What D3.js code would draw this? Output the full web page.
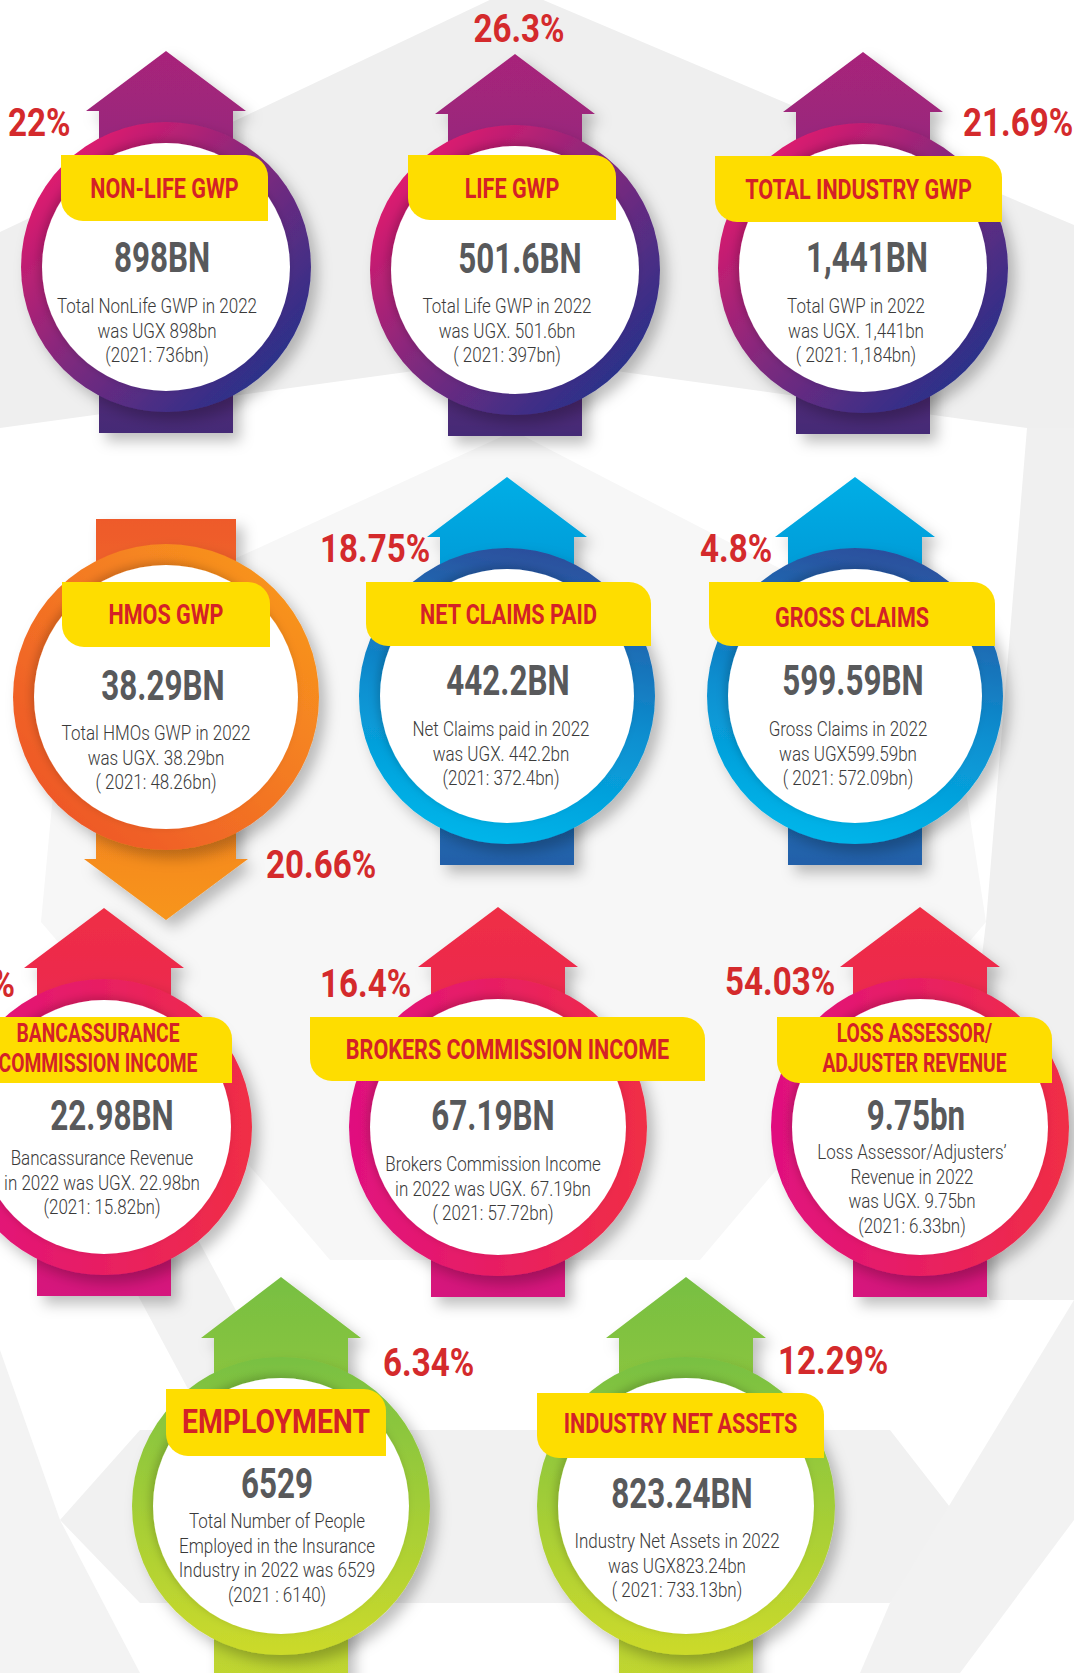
<!DOCTYPE html>
<html><head><meta charset="utf-8">
<script src="https://cdn.jsdelivr.net/npm/d3@7"></script>
<style>
html,body{margin:0;padding:0;background:#fff;}
svg{display:block;}
</style></head>
<body>
<svg id="chart" width="1074" height="1673"></svg>
<script>
// ---------- DATA ----------
const titles = ["NON-LIFE GWP", "LIFE GWP", "TOTAL INDUSTRY GWP", "HMOS GWP", "NET CLAIMS PAID", "GROSS CLAIMS",
  "BANCASSURANCE|COMMISSION INCOME", "BROKERS COMMISSION INCOME", "LOSS ASSESSOR/|ADJUSTER REVENUE", "EMPLOYMENT", "INDUSTRY NET ASSETS"];
const values2022 = ["898BN", "501.6BN", "1,441BN", "38.29BN", "442.2BN", "599.59BN", "22.98BN", "67.19BN", "9.75bn", "6529", "823.24BN"];
const descriptions = [
  ["Total NonLife GWP in 2022", "was UGX 898bn", "(2021: 736bn)"],
  ["Total Life GWP in 2022", "was UGX. 501.6bn", "( 2021: 397bn)"],
  ["Total GWP in 2022", "was UGX. 1,441bn", "( 2021: 1,184bn)"],
  ["Total HMOs GWP in 2022", "was UGX. 38.29bn", "( 2021: 48.26bn)"],
  ["Net Claims paid in 2022", "was UGX. 442.2bn", "(2021: 372.4bn)"],
  ["Gross Claims in 2022", "was UGX599.59bn", "( 2021: 572.09bn)"],
  ["Bancassurance Revenue", "in 2022 was UGX. 22.98bn", "(2021: 15.82bn)"],
  ["Brokers Commission Income", "in 2022 was UGX. 67.19bn", "( 2021: 57.72bn)"],
  ["Loss Assessor/Adjusters\u2019", "Revenue in 2022", "was UGX. 9.75bn", "(2021: 6.33bn)"],
  ["Total Number of People", "Employed in the Insurance", "Industry in 2022 was 6529", "(2021 : 6140)"],
  ["Industry Net Assets in 2022", "was UGX823.24bn", "( 2021: 733.13bn)"]
];
const changes = ["22%", "26.3%", "21.69%", "20.66%", "18.75%", "4.8%", "45.26%", "16.4%", "54.03%", "6.34%", "12.29%"];
const directions = ["up", "up", "up", "down", "up", "up", "up", "up", "up", "up", "up"];
const themes = ["purple", "purple", "purple", "orange", "blue", "blue", "pink", "pink", "pink", "green", "green"];

// ---------- LAYOUT (positions only) ----------
const layout = [
  {cx:166, cy:267, r:145, lab:[61,155,268,221], labY:[198], vx:162, vy:272, dx:157, dy:313, px:8, py:136, pa:"start"},
  {cx:515, cy:270, r:145, lab:[408,155,616,220], labY:[198], vx:520, vy:273, dx:507, dy:313, px:519, py:42, pa:"middle"},
  {cx:863, cy:268, r:145, lab:[715,156,1002,222], labY:[199], vx:867, vy:272, dx:856, dy:313, px:963, py:136, pa:"start"},
  {cx:166, cy:697, r:153, lab:[62,582,270,647], labY:[624], vx:163, vy:700, dx:156, dy:740, px:266, py:878, pa:"start"},
  {cx:507, cy:696, r:148, lab:[366,582,651,646], labY:[624], vx:508, vy:695, dx:501, dy:736, px:320, py:562, pa:"start"},
  {cx:855, cy:696, r:148, lab:[709,582,995,646], labY:[627], vx:853, vy:695, dx:848, dy:736, px:700, py:562, pa:"start"},
  {cx:104, cy:1127, r:148, lab:[-30,1017,232,1083], labY:[1042,1072], vx:112, vy:1130, dx:102, dy:1165, px:15, py:997, pa:"end"},
  {cx:498, cy:1127, r:149, lab:[310,1017,705,1081], labY:[1059], vx:493, vy:1130, dx:493, dy:1171, px:320, py:997, pa:"start"},
  {cx:920, cy:1127, r:149, lab:[777,1017,1052,1083], labY:[1042,1072], vx:916, vy:1130, dx:912, dy:1159, px:725, py:995, pa:"start"},
  {cx:281, cy:1506, r:149, lab:[166,1389,386,1456], labY:[1433], vx:277, vy:1498, dx:277, dy:1528, px:383, py:1376, pa:"start", big:true, tall:true},
  {cx:686, cy:1506, r:149, lab:[537,1393,824,1458], labY:[1433], vx:682, vy:1508, dx:677, dy:1548, px:778, py:1374, pa:"start", tall:true}
];

const palette = {
  purple: {ring:[["0%","#dc1a6e"],["50%","#7c2a7e"],["100%","#2c3089"]], ringDir:[0.15,0.15,0.85,0.85],
           arrow:[["0%","#a8247a"],["45%","#8a287c"],["100%","#442a76"]]},
  blue:   {ring:[["0%","#2d4e9c"],["55%","#0a8fd0"],["100%","#00b6ea"]], ringDir:[0.6,0,0.4,1],
           arrow:[["0%","#00aee6"],["45%","#0a8bcb"],["100%","#2360a9"]]},
  orange: {ring:[["0%","#ee5529"],["100%","#f8961d"]], ringDir:[0.1,0.9,0.9,0.1],
           arrow:[["0%","#ee5a2b"],["100%","#f7951d"]]},
  pink:   {ring:[["0%","#e0107f"],["100%","#f02e45"]], ringDir:[0,0.5,1,0.5],
           arrow:[["0%","#ef2e45"],["50%","#e8245a"],["100%","#d5127e"]]},
  green:  {ring:[["0%","#78c043"],["100%","#ccda2b"]], ringDir:[0,0,0,1],
           arrow:[["0%","#77bf43"],["100%","#c8d82d"]]}
};

const svg = d3.select("#chart");
const defs = svg.append("defs");

const f = defs.append("filter").attr("id","shadow").attr("x","-30%").attr("y","-30%").attr("width","160%").attr("height","160%");
f.append("feDropShadow").attr("dx",7).attr("dy",8).attr("stdDeviation",7).attr("flood-color","#000").attr("flood-opacity",0.25);
const f2 = defs.append("filter").attr("id","inshadow").attr("x","-20%").attr("y","-20%").attr("width","140%").attr("height","140%");
f2.append("feDropShadow").attr("dx",-3).attr("dy",-3).attr("stdDeviation",4).attr("flood-color","#000").attr("flood-opacity",0.18);

Object.entries(palette).forEach(([k,p]) => {
  const g = defs.append("linearGradient").attr("id","ring-"+k)
    .attr("x1",p.ringDir[0]).attr("y1",p.ringDir[1]).attr("x2",p.ringDir[2]).attr("y2",p.ringDir[3]);
  p.ring.forEach(s => g.append("stop").attr("offset",s[0]).attr("stop-color",s[1]));
  const a = defs.append("linearGradient").attr("id","arrow-"+k).attr("x1",0).attr("y1",0).attr("x2",0).attr("y2",1);
  p.arrow.forEach(s => a.append("stop").attr("offset",s[0]).attr("stop-color",s[1]));
});

// ---------- BACKGROUND ----------
const bgShapes = [
  {c:"#efefef", p:[[0,232],[515,-12],[1074,225],[1074,428],[1027,428],[515,357],[0,428]]},
  {c:"#f7f7f7", p:[[514,431],[945,654],[986,922],[700,1260],[330,1260],[41,922],[68,635]]},
  {c:"#f0f0f0", p:[[1027,428],[1074,428],[1074,1300],[990,1300],[952,1209],[986,922]]},
  {c:"#f2f2f2", p:[[60,1150],[150,1150],[300,1430],[210,1430]]},
  {c:"#f1f1f1", p:[[140,1430],[890,1430],[960,1520],[890,1603],[140,1603],[60,1520]]},
  {c:"#f2f2f2", p:[[890,1603],[1074,1300],[1074,1520],[960,1673],[860,1673]]},
  {c:"#f3f3f3", p:[[0,1350],[60,1520],[140,1673],[0,1673]]}
];
svg.append("g").selectAll("polygon").data(bgShapes).join("polygon")
  .attr("points", d => d.p.map(q => q.join(",")).join(" "))
  .attr("fill", d => d.c);

// ---------- CARDS ----------
const ff = "Roboto, 'Liberation Sans', sans-serif";
const cards = titles.map((t,i) => ({title:t, value:values2022[i], desc:descriptions[i], change:changes[i],
  dir:directions[i], theme:themes[i], L:layout[i]}));

function arrowPath(d){
  const {cx, cy, r} = d.L;
  if (d.dir === "up") {
    const tip = cy - r - (d.L.tall ? 80 : 71);
    const base = cy - r - (d.L.tall ? 19 : 11);
    const bottom = d.L.tall ? 1720 : cy + r + 21;
    const hw = 80, sw = 67;
    return `M${cx},${tip} L${cx+hw},${base} L${cx+sw},${base} L${cx+sw},${bottom} L${cx-sw},${bottom} L${cx-sw},${base} L${cx-hw},${base} Z`;
  } else {
    const top = cy - r - 25;
    const base = cy + r + 9;
    const tip = cy + r + 70;
    const hw = 82, sw = 70;
    return `M${cx-sw},${top} L${cx+sw},${top} L${cx+sw},${base} L${cx+hw},${base} L${cx},${tip} L${cx-hw},${base} L${cx-sw},${base} Z`;
  }
}
function labelPath(b){
  const [x0,y0,x1,y1] = b, R = 22;
  return `M${x0},${y0} H${x1-R} A${R},${R} 0 0 1 ${x1},${y0+R} V${y1} H${x0+R} A${R},${R} 0 0 1 ${x0},${y1-R} Z`;
}

const cg = svg.append("g").selectAll("g.card").data(cards).join("g").attr("class","card");

cg.append("path").attr("d", arrowPath).attr("fill", d => `url(#arrow-${d.theme})`).attr("filter","url(#shadow)");
cg.append("circle").attr("cx", d => d.L.cx).attr("cy", d => d.L.cy).attr("r", d => d.L.r)
  .attr("fill", d => `url(#ring-${d.theme})`).attr("filter","url(#shadow)");
cg.append("circle").attr("cx", d => d.L.cx).attr("cy", d => d.L.cy).attr("r", d => d.L.r - 21)
  .attr("fill", "#fff").attr("filter","url(#inshadow)");
cg.append("path").attr("d", d => labelPath(d.L.lab)).attr("fill", "#fedd00");

cg.each(function(d){
  const g = d3.select(this);
  const lines = d.title.split("|");
  const lx = d.L.lab[0] < 0 ? 98 : (d.L.lab[0] + d.L.lab[2]) / 2;
  lines.forEach((ln, k) => {
    g.append("text").attr("transform", `translate(${lx},${d.L.labY[k]}) scale(${d.L.big ? 0.86 : 0.77},1)`)
      .attr("text-anchor","middle").attr("font-family", ff).attr("font-weight", 700)
      .attr("font-size", d.L.big ? 33 : (lines.length > 1 ? 25 : 28)).attr("fill", "#d42127").text(ln);
  });
  g.append("text").attr("transform", `translate(${d.L.vx},${d.L.vy}) scale(0.73,1)`)
    .attr("text-anchor","middle").attr("font-family", ff).attr("font-weight", 700)
    .attr("font-size", 43).attr("fill", "#58595b").text(d.value);
  d.desc.forEach((ln, k) => {
    g.append("text").attr("transform", `translate(${d.L.dx},${d.L.dy + k*24.5}) scale(0.81,1)`)
      .attr("text-anchor","middle").attr("font-family", ff).attr("font-weight", 300)
      .attr("font-size", 21).attr("fill", "#3a3a3a").text(ln);
  });
  g.append("text").attr("transform", `translate(${d.L.px},${d.L.py}) scale(0.85,1)`)
    .attr("text-anchor", d.L.pa).attr("font-family", ff).attr("font-weight", 700)
    .attr("font-size", 39).attr("fill", "#d42a2c").text(d.change);
});
</script>
</body></html>
